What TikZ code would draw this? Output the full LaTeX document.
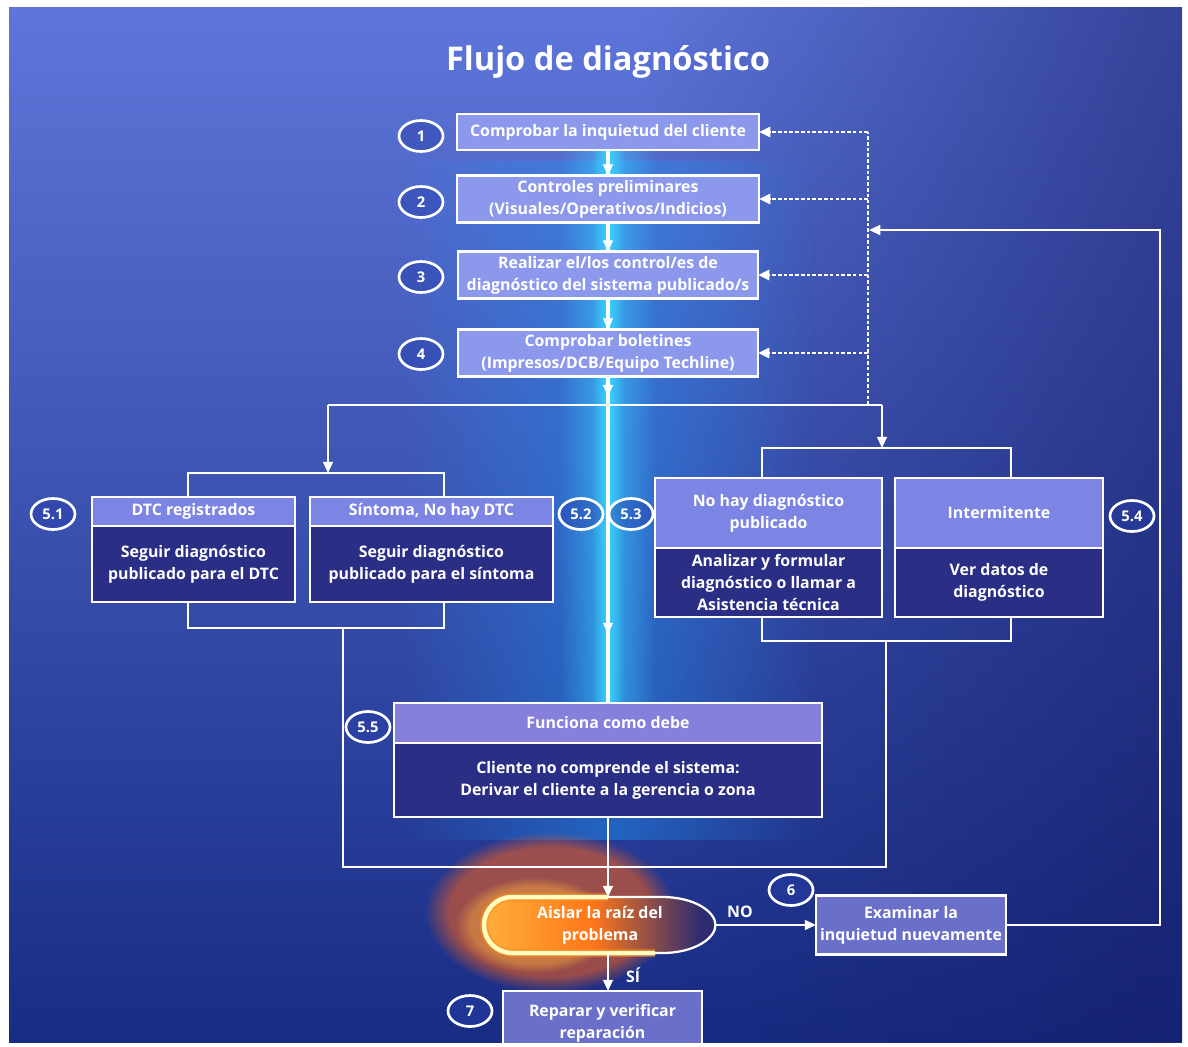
\documentclass[tikz,border=0pt]{standalone}
\usepackage{fontspec}
\setmainfont{Open Sans}
\usetikzlibrary{arrows.meta,calc,fadings,shapes.geometric}
\pgfdeclarelayer{bg}
\pgfsetlayers{bg,main}
\definecolor{bgtop}{RGB}{94,118,218}
\definecolor{bgmid}{RGB}{50,80,192}
\definecolor{bgbot}{RGB}{24,44,132}
\definecolor{bgdark}{RGB}{20,26,100}
\definecolor{haze}{RGB}{30,150,245}
\definecolor{glowc}{RGB}{60,215,255}
\definecolor{boxlight}{RGB}{140,152,236}
\definecolor{hdr}{RGB}{124,132,228}
\definecolor{hdrb}{RGB}{134,128,220}
\definecolor{bodyc}{RGB}{42,46,132}
\definecolor{boxmid}{RGB}{106,112,202}
\definecolor{aisfill}{RGB}{46,44,112}
\definecolor{orgl}{RGB}{255,140,30}
\definecolor{orgy}{RGB}{255,175,60}
\definecolor{numfill}{RGB}{40,62,170}
\tikzfading[name=fadeR, left color=transparent!100, right color=transparent!0]
\tikzfading[name=fadeMid, left color=transparent!100, right color=transparent!100, middle color=transparent!0]
\begin{document}
\begin{tikzpicture}[x=0.025cm,y=-0.025cm,
  every node/.style={text=white, font=\bfseries\fontsize{11.3}{15.5}\selectfont, align=center, inner sep=0pt, outer sep=0pt},
  wh/.style 2 args={minimum width=#1*0.025cm, minimum height=#2*0.025cm},
  conn/.style={draw=white, line width=1.5pt},
  arr/.style={conn, -{Triangle[length=8pt,width=7pt]}},
  dotline/.style={draw=white, line width=2pt, dash pattern=on 2.6pt off 1.5pt},
  dotarr/.style={dotline, -{Triangle[length=8pt,width=7pt]}},
  flowbox/.style={rectangle, draw=white, line width=1.5pt, fill=boxlight},
  hbox/.style={rectangle, draw=white, line width=1.5pt, fill=hdr},
  bbox/.style={rectangle, draw=white, line width=1.5pt, fill=bodyc},
  num/.style={ellipse, draw=white, fill=numfill, fill opacity=0.45, text opacity=1, line width=1.9pt, minimum width=44*0.025cm, minimum height=31*0.025cm, font=\bfseries\fontsize{10.5}{12}\selectfont}
]
\useasboundingbox (0,0) rectangle (1188,1046);

% title
\node[font=\bfseries\fontsize{23.2}{27}\selectfont] (title) at (608,62) {Flujo de diagnóstico};

% main steps
\node[flowbox, wh={302}{36}] (b1) at (608,132) {Comprobar la inquietud del cliente};
\node[flowbox, wh={302}{47}] (b2) at (608,199) {Controles preliminares\\(Visuales/Operativos/Indicios)};
\node[flowbox, wh={300}{47}] (b3) at (608,275) {Realizar el/los control/es de\\diagnóstico del sistema publicado/s};
\node[flowbox, wh={300}{47}] (b4) at (608,353) {Comprobar boletines\\(Impresos/DCB/Equipo Techline)};
\node[num] (n1) at (421,136) {1};
\node[num] (n2) at (421,202) {2};
\node[num] (n3) at (421,277) {3};
\node[num] (n4) at (421,354) {4};

% group 5.1 / 5.2
\node[hbox, wh={203}{29}] (s51h) at (193.5,511.5) {DTC registrados};
\node[bbox, wh={203}{76}, anchor=north] (s51b) at (s51h.south) {Seguir diagnóstico\\publicado para el DTC};
\node[hbox, wh={243}{29}] (s52h) at (431.5,511.5) {Síntoma, No hay DTC};
\node[bbox, wh={243}{76}, anchor=north] (s52b) at (s52h.south) {Seguir diagnóstico\\publicado para el síntoma};
% group 5.3 / 5.4
\node[hbox, wh={227}{70}] (s53h) at (768.5,513) {No hay diagnóstico\\publicado};
\node[bbox, wh={227}{69}, anchor=north] (s53b) at (s53h.south) {Analizar y formular\\diagnóstico o llamar a\\Asistencia técnica};
\node[hbox, wh={208}{70}] (s54h) at (999,513) {Intermitente};
\node[bbox, wh={208}{69}, anchor=north] (s54b) at (s54h.south) {Ver datos de\\diagnóstico};
% 5.5
\node[hbox, fill=hdrb, wh={428}{40}] (s55h) at (608,723) {Funciona como debe};
\node[bbox, wh={428}{74}, anchor=north] (s55b) at (s55h.south) {Cliente no comprende el sistema:\\Derivar el cliente a la gerencia o zona};

\node[num] (n51) at (53,514) {5.1};
\node[num] (n52) at (581,514) {5.2};
\node[num] (n53) at (631,514) {5.3};
\node[num] (n54) at (1132,516) {5.4};
\node[num] (n55) at (368,727) {5.5};

% bottom
\node[wh={231}{56}] (ais) at (600,925) {Aislar la raíz del\\problema};
\node[flowbox, fill=boxmid, wh={190}{59}] (exam) at (911,925) {Examinar la\\inquietud nuevamente};
\begin{scope}
\clip (9,7) rectangle (1182,1042);
\node[flowbox, fill=boxmid, wh={199}{64}] (b7) at (602.5,1023) {Reparar y verificar\\reparación};
\end{scope}
\node[num] (n6) at (791,890) {6};
\node[num] (n7) at (470,1011) {7};
\node (no) at (740,912) {NO};
\node (si) at (633,975) {SÍ};

% junction coordinates
\coordinate (jl) at (328,405);
\coordinate (jr) at (882,405);
\coordinate (dv) at (868,405);
\coordinate (dt) at (868,132);
\coordinate (lbt) at (328,473);
\coordinate (rbt) at (882,448);
\coordinate (fbt) at (869,230);
\coordinate (fbc) at (1160,230);
\coordinate (lbb) at (343,628);
\coordinate (rbb) at (886,641);
\coordinate (botl) at (343,867);
\coordinate (botr) at (886,867);
\coordinate (g1) at (608,396);
\coordinate (g2) at (608,634);

% connectors
\draw[arr] (b1) -- (b2);
\draw[arr] (b2) -- (b3);
\draw[arr] (b3) -- (b4);
\draw[arr] (b4.south) -- (g1);
\draw[arr] (g1) -- (g2);
\draw[conn] (g2) -- (s55h.north);
\draw[arr] (s55b.south) -- (ais.north -| s55b.south);
\draw[arr] (ais.south -| s55b.south) -- (b7.north -| s55b.south);
\draw[conn] (jl) -- (jr);
\draw[arr] (jl) -- (lbt);
\draw[arr] (jr) -- (rbt);
\draw[conn] ($(s51h.north)+(-5.5,0)$) |- (lbt) -| ($(s52h.north)+(12.5,0)$);
\draw[conn] ($(s53h.north)+(-6.5,0)$) |- (rbt) -| ($(s54h.north)+(12,0)$);
\draw[conn] ($(s51b.south)+(-5.5,0)$) |- (lbb) -| ($(s52b.south)+(12.5,0)$);
\draw[conn] ($(s53b.south)+(-6.5,0)$) |- (rbb) -| ($(s54b.south)+(12,0)$);
\draw[conn] (lbb) -- (botl) -- (botr) -- (rbb);
\draw[dotline] (dv) -- (dt);
\foreach \b in {b1,b2,b3,b4} \draw[dotarr] (\b.east -| dt) -- (\b.east);
\draw[arr] (exam.east) -| (fbc) -- (fbt);
\draw[arr] (ais.east) -- (exam.west);

% background layer
\begin{pgfonlayer}{bg}
\fill[white] (0,0) rectangle (1188,1046);
\shade[top color=bgtop, middle color=bgmid, bottom color=bgbot] (9,7) rectangle (1182,1042);
\fill[bgdark, path fading=fadeR, opacity=0.55] (640,7) rectangle (1182,1042);
\fill[haze, path fading=fadeMid, opacity=0.45] (400,160) rectangle (816,840);
% orange glow near the decision
\fill[orgl!70!red, path fading=circle with fuzzy edge 20 percent, opacity=0.55] (550,912) ellipse [x radius=125, y radius=80];
\fill[orgy, path fading=circle with fuzzy edge 20 percent, opacity=0.45] (535,925) ellipse [x radius=80, y radius=48];
% cyan glow line
\fill[glowc, path fading=fadeMid, opacity=0.55] ($(b1.south)+(-48,0)$) rectangle (656,705);
\fill[glowc, path fading=fadeMid, opacity=0.85] ($(b1.south)+(-16,0)$) rectangle (624,705);
\draw[white, line width=2.6pt] (b1.south) -- (s55h.north);
% Aislar shape
\path[fill=aisfill] (512,897) -- (662,897) .. controls (695,897) and (715.5,912) .. (715.5,925) .. controls (715.5,938) and (695,953) .. (662,953) -- (512,953) arc[start angle=90, end angle=270, radius=28] -- cycle;
\begin{scope}
\clip (512,897) -- (662,897) .. controls (695,897) and (715.5,912) .. (715.5,925) .. controls (715.5,938) and (695,953) .. (662,953) -- (512,953) arc[start angle=90, end angle=270, radius=28] -- cycle;
\shade[left color=orgy, right color=aisfill, middle color=orgl!85!red] (484,897) rectangle (700,953);
\end{scope}
\draw[white, line width=1.6pt] (512,897) -- (662,897) .. controls (695,897) and (715.5,912) .. (715.5,925) .. controls (715.5,938) and (695,953) .. (662,953) -- (512,953) arc[start angle=90, end angle=270, radius=28] -- cycle;
\draw[orgl, line width=6pt, opacity=0.5] (655,953) -- (512,953) arc[start angle=90, end angle=270, radius=28] -- (608,897);
\draw[yellow!25!white, line width=3.2pt] (655,953) -- (512,953) arc[start angle=90, end angle=270, radius=28] -- (608,897);
\end{pgfonlayer}
\end{tikzpicture}
\end{document}
